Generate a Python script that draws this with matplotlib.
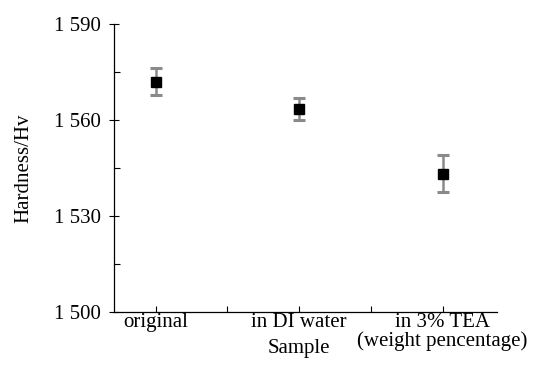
import matplotlib
matplotlib.use("Agg")
import matplotlib.pyplot as plt
from matplotlib.ticker import FixedLocator, FuncFormatter
import matplotlib.transforms as mtransforms

plt.rcParams['font.family'] = ['Liberation Serif', 'DejaVu Serif']

# Data
samples = ["original", "in DI water", "in 3% TEA\n(weight pencentage)"]
hardness = [1572.0, 1563.4, 1543.3]
hardness_err = [4.3, 3.5, 5.7]

font_size = 15

fig = plt.figure(figsize=(5.34, 3.65), dpi=100)
ax = fig.add_axes([0.2135, 0.145, 0.931 - 0.2135, 0.934 - 0.145])

pos = list(range(1, len(samples) + 1))
ax.errorbar(pos, hardness, yerr=hardness_err, fmt='none', ecolor='#8a8a8a',
            elinewidth=1.8, capsize=4.5, capthick=2.2, zorder=2)
ax.plot(pos, hardness, linestyle='none', marker='s', markersize=7.5,
        color='black', zorder=3)

ax.set_xlim(0.71, 3.38)
ax.set_ylim(1500, 1590)

ax.set_xticks(pos)
ax.set_xticklabels(samples, fontsize=font_size, linespacing=0.95)
ax.xaxis.set_minor_locator(FixedLocator([1.5, 2.5]))
ax.set_yticks([1500, 1530, 1560, 1590])
ax.yaxis.set_minor_locator(FixedLocator([1515, 1545, 1575]))
ax.yaxis.set_major_formatter(FuncFormatter(lambda v, p: f"{v:,.0f}".replace(",", " ")))

ax.tick_params(axis='x', which='both', direction='in', length=4, width=0.8, pad=1)
ax.tick_params(axis='y', which='major', direction='inout', length=7, width=0.8, pad=6,
               labelsize=font_size)
ax.tick_params(axis='y', which='minor', direction='in', length=4, width=0.8)

for side in ['top', 'right']:
    ax.spines[side].set_visible(False)
for side in ['left', 'bottom']:
    ax.spines[side].set_linewidth(0.9)

ax.set_ylabel("Hardness/Hv", fontsize=font_size)
ax.yaxis.set_label_coords(-0.21, 0.5)

# "Sample" sits under the middle category
trans = mtransforms.blended_transform_factory(ax.transData, ax.transAxes)
ax.text(2, -0.092, "Sample", transform=trans, ha='center', va='top', fontsize=font_size)

fig.savefig("out.png", dpi=100)
